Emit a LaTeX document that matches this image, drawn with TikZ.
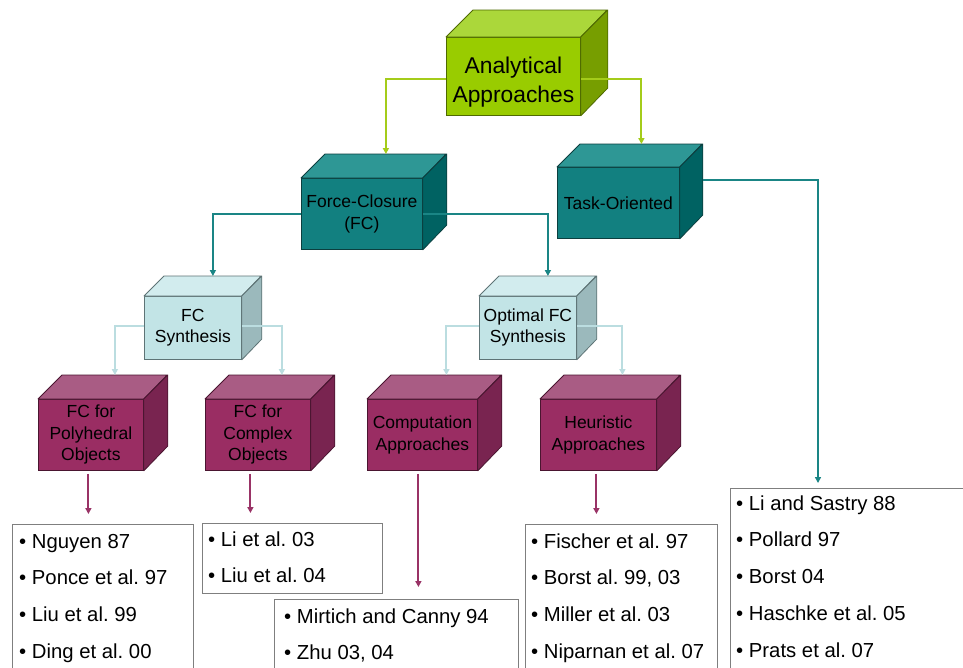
\documentclass[tikz,border=0pt]{standalone}
\usepackage{fontspec}
\setmainfont{Liberation Sans}
\usetikzlibrary{arrows.meta,calc}

% face colours of the three-sided boxes
\definecolor{limefront}{HTML}{99CC00}
\definecolor{limetop}{HTML}{ABD73A}
\definecolor{limeside}{HTML}{779E00}
\definecolor{limeedge}{HTML}{4F6A00}
\definecolor{tealfront}{HTML}{128080}
\definecolor{tealtop}{HTML}{2E9795}
\definecolor{tealside}{HTML}{006262}
\definecolor{tealedge}{HTML}{0B3F3F}
\definecolor{icefront}{HTML}{C2E4E6}
\definecolor{icetop}{HTML}{D2ECEE}
\definecolor{iceside}{HTML}{9BB9BC}
\definecolor{iceedge}{HTML}{5E7476}
\definecolor{plumfront}{HTML}{9A2D63}
\definecolor{plumtop}{HTML}{A95C84}
\definecolor{plumside}{HTML}{792450}
\definecolor{plumedge}{HTML}{4A1530}
% connector colours
\definecolor{limeline}{HTML}{A4CC1A}
\definecolor{tealline}{HTML}{1A8585}
\definecolor{iceline}{HTML}{BBDDE0}
\definecolor{plumline}{HTML}{993366}
\definecolor{boxline}{HTML}{7F7F7F}

\tikzset{
  cubefront/.style={draw, line width=0.8pt, inner sep=0pt, align=center,
    font=\fontsize{17.5}{21.5}\selectfont},
  cubeedge/.style={line width=0.8pt, line join=round},
  conn/.style={line width=2pt, -{Triangle[width=6pt,length=6pt]}},
  refbox/.style={draw=boxline, line width=1pt, inner sep=0pt},
  refitem/.style={inner sep=0pt, font=\fontsize{20.3}{24}\selectfont},
}

% #1 name, #2 x, #3 y of front face corner, #4 width, #5 height,
% #6 depth, #7 colour family, #8 label, #9 label font
\newcommand\cubenode[9]{%
  \node[cubefront, draw=#7edge, fill=#7front, minimum width=#4pt,
        minimum height=#5pt, anchor=north west, font=#9] (#1) at (#2,#3) {#8};
  \filldraw[cubeedge, draw=#7edge, fill=#7top]
    (#1.north west) -- ++(#6,-#6) -- ++(#4,0) -- (#1.north east) -- cycle;
  \filldraw[cubeedge, draw=#7edge, fill=#7side]
    (#1.north east) -- ++(#6,-#6) -- ++(0,#5) -- (#1.south east) -- cycle;
  \coordinate (#1-top) at ([shift={(#6,-#6)}]#1.north);
  \coordinate (#1-back) at ([shift={(#6,-#6)}]#1.east);
}

% #1 name, #2 x, #3 y, #4 width, #5 height, #6 text x, #7 first baseline, #8 items
\newcommand\reflist[8]{%
  \node[refbox, fill=white, minimum width=#4pt, minimum height=#5pt,
        anchor=north west] (#1) at (#2,#3) {};
  \foreach \t [count=\i from 0] in {#8}
    \node[refitem, anchor=base west] (#1-\i) at (#6,{#7+36.8*\i}) {\textbullet\ \t};
}

\begin{document}
\frenchspacing
\begin{tikzpicture}[x=1pt,y=-1pt]
\useasboundingbox (0,0) rectangle (963,667);
\clip (0,0) rectangle (963,667);
\fill[white] (0,0) rectangle (963,667);

% boxes of the hierarchy
\cubenode{ana}{446}{37}{134}{78}{27}{lime}{\rule{0pt}{27pt}Analytical\\Approaches}{\fontsize{22.8}{29}\selectfont}
\cubenode{fc}{301}{178}{121}{71}{24}{teal}{Force-Closure\\(FC)}{\fontsize{17.5}{21.5}\selectfont}
\cubenode{task}{557}{167}{122}{71}{23}{teal}{Task-Oriented}{\fontsize{17.5}{21.5}\selectfont}
\cubenode{fcs}{144}{296}{97}{63}{20}{ice}{FC\\Synthesis}{\fontsize{17.5}{21}\selectfont}
\cubenode{ofcs}{479}{296}{97}{63}{20}{ice}{Optimal FC\\Synthesis}{\fontsize{17.5}{21}\selectfont}
\cubenode{poly}{38}{399}{105}{71}{24}{plum}{FC for\\Polyhedral\\Objects}{\fontsize{17.5}{21.5}\selectfont}
\cubenode{cplx}{205}{399}{105}{71}{24}{plum}{FC for\\Complex\\Objects}{\fontsize{17.5}{21.5}\selectfont}
\cubenode{comp}{367}{399}{110}{71}{24}{plum}{Computation\\Approaches}{\fontsize{17.5}{21.5}\selectfont}
\cubenode{heur}{540}{399}{116}{71}{24}{plum}{Heuristic\\Approaches}{\fontsize{17.5}{21.5}\selectfont}

% reference lists
\reflist{refA}{12}{524}{181}{200}{19}{548}{Nguyen 87, Ponce et al. 97, Liu et al. 99, Ding et al. 00}
\reflist{refB}{202}{523}{180}{70}{208}{546}{Li et al. 03, Liu et al. 04}
\reflist{refC}{274}{599}{244}{120}{284}{623}{Mirtich and Canny 94, {Zhu 03, 04}}
\reflist{refD}{525}{524}{192}{200}{531}{548}{Fischer et al. 97, {Borst al. 99, 03}, Miller et al. 03, Niparnan et al. 07}
\reflist{refE}{730}{488}{300}{250}{736}{510}{Li and Sastry 88, Pollard 97, Borst 04, Haschke et al. 05, Prats et al. 07}

% connectors
\draw[conn, limeline] ([yshift=-3pt]ana.west) -| (fc-top);
\draw[conn, limeline] ([yshift=-3pt]ana.east) -| (task-top);
\draw[conn, tealline] (fc.west) -| (fcs-top);
\draw[conn, tealline] (fc.east) -| (ofcs-top);
\draw[conn, tealline, shorten >=5pt] (task-back) -| ([xshift=88pt]refE.north west);
\draw[conn, iceline] ([yshift=2pt]fcs.west) -| (poly-top);
\draw[conn, iceline] ([yshift=2pt]fcs.east) -| (cplx-top);
\draw[conn, iceline] ([yshift=2pt]ofcs.west) -| (comp-top);
\draw[conn, iceline] ([yshift=2pt]ofcs.east) -| (heur-top);
\draw[conn, plumline, shorten <=3pt, shorten >=10pt]
  ([xshift=-2.5pt]poly.south) -- ([xshift=-2.5pt]poly.south |- refA.north);
\draw[conn, plumline, shorten <=3pt, shorten >=10pt]
  ([xshift=-7.5pt]cplx.south) -- ([xshift=-7.5pt]cplx.south |- refB.north);
\draw[conn, plumline, shorten <=3pt, shorten >=12pt]
  ([xshift=-4pt]comp.south) -- ([xshift=-4pt]comp.south |- refC.north);
\draw[conn, plumline, shorten <=3pt, shorten >=10pt]
  ([xshift=-2pt]heur.south) -- ([xshift=-2pt]heur.south |- refD.north);
\end{tikzpicture}
\end{document}
